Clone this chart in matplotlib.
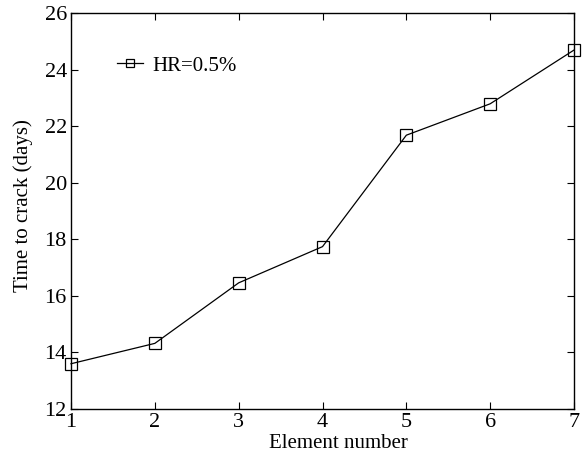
import matplotlib
matplotlib.use('Agg')
import matplotlib.pyplot as plt

# element index and measured time to crack
elements = [1, 2, 3, 4, 5, 6, 7]
time_to_crack = [13.60, 14.32, 16.46, 17.74, 21.68, 22.79, 24.69]

plt.rcParams['font.family'] = ['Liberation Serif', 'DejaVu Serif']
plt.rcParams['mathtext.fontset'] = 'stix'

fig = plt.figure(figsize=(5.86, 4.61), dpi=100)
ax = fig.add_axes([71 / 586, 1 - 409 / 461, (574 - 71) / 586, (409 - 13) / 461])

ax.plot(elements, time_to_crack, color='black', linewidth=0.9,
        marker='s', markersize=8, markerfacecolor='none',
        markeredgecolor='black', markeredgewidth=0.9, label='HR=0.5%',
        clip_on=False, zorder=3)

ax.set_xlim(1, 7)
ax.set_ylim(12, 26)
ax.set_xticks(elements)
ax.set_yticks(range(12, 27, 2))
ax.tick_params(direction='in', top=True, right=True, length=5, width=0.8,
               labelsize=16, pad=3, colors='black')
for s in ax.spines.values():
    s.set_linewidth(1.0)

ax.set_xlabel('Element number', fontsize=15)
ax.xaxis.set_label_coords((338 - 71) / 503, -(443 - 409) / 396)
ax.xaxis.label.set_va('center')
ax.set_ylabel('Time to crack (days)', fontsize=15)
ax.yaxis.set_label_coords(-(71 - 23) / 503, (409 - 206) / 396)
ax.yaxis.label.set_va('center')

ax.legend(loc='upper left', bbox_to_anchor=((117 - 71) / 503, (409 - 56) / 396),
          frameon=False, fontsize=15, handlelength=1.25, handletextpad=0.45,
          borderpad=0, borderaxespad=0, markerscale=0.8)

fig.savefig('out.png', dpi=100)
